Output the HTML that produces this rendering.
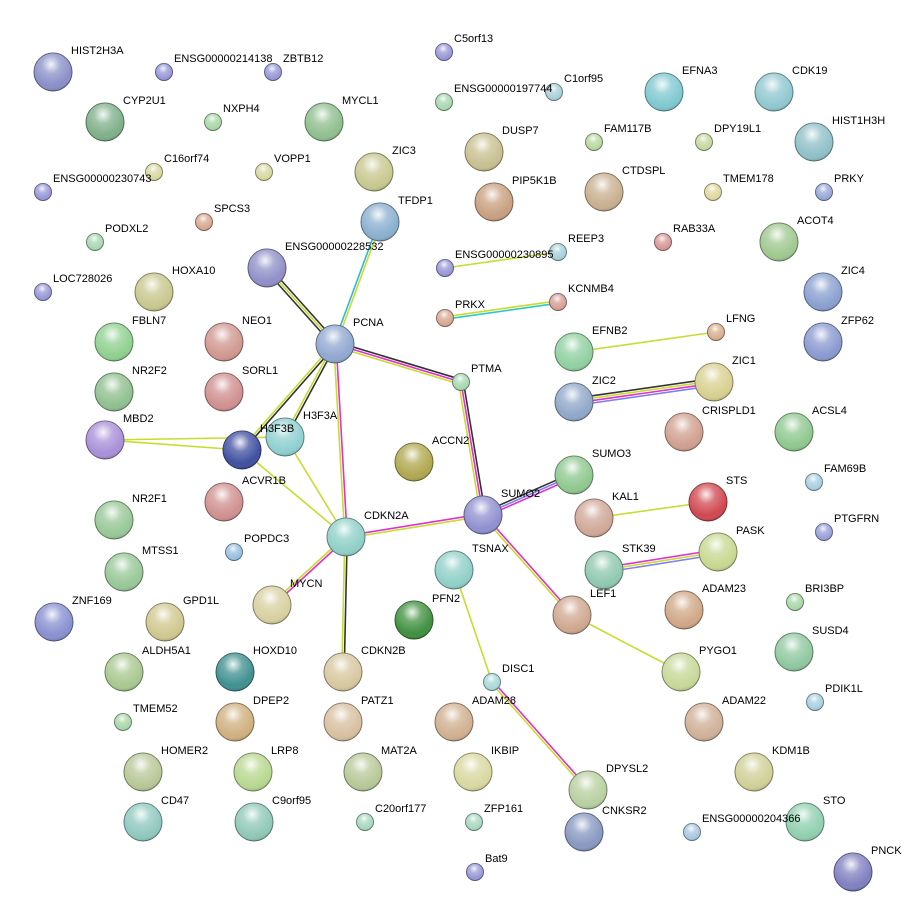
<!DOCTYPE html>
<html><head><meta charset="utf-8"><style>
html,body{margin:0;padding:0;background:#fff;width:924px;height:917px;overflow:hidden}
svg text{font-family:"Liberation Sans",sans-serif;font-size:11px;fill:#000}
</style></head><body>
<svg id="s" width="924" height="917" xmlns="http://www.w3.org/2000/svg">
<defs>
<radialGradient id="hl" cx="0.45" cy="0.3" r="0.7">
<stop offset="0" stop-color="#fff" stop-opacity="0.9"/>
<stop offset="0.35" stop-color="#fff" stop-opacity="0.25"/>
<stop offset="0.8" stop-color="#fff" stop-opacity="0"/>
<stop offset="1" stop-color="#000" stop-opacity="0.15"/>
</radialGradient>
</defs>
<g id="e"></g><g id="n"></g><g id="t"></g>
</svg>
<script>
var L=[
["HIST2H3A",53,72,"#8a90c8"],["CYP2U1",105,122,"#7fb08a"],["MYCL1",324,122,"#8fbf8f"],["ZIC3",374,172,"#c8c890"],
["TFDP1",380,222,"#8ab0d0"],["DUSP7",484,152,"#c8c090"],["PIP5K1B",494,202,"#c8a080"],["CTDSPL",604,192,"#c8b090"],
["EFNA3",664,92,"#80c8d0"],["CDK19",774,92,"#90c8d0"],["HIST1H3H",814,142,"#90c0c8"],["ACOT4",779,242,"#a0c890"],
["ZIC4",823,292,"#8aa0d0"],["ZFP62",823,342,"#8a9ad0"],["ENSG00000228532",267,268,"#9090c8"],["HOXA10",154,292,"#c8c890"],
["PCNA",335,344,"#90a8d0"],["FBLN7",114,342,"#90d090"],["NEO1",224,342,"#d09890"],["NR2F2",114,392,"#90c090"],
["SORL1",224,392,"#d09090"],["EFNB2",574,352,"#90d0a0"],["ZIC1",714,382,"#d8d090"],["ZIC2",574,402,"#90a8c8"],
["CRISPLD1",684,432,"#d0a090"],["ACSL4",794,432,"#90c890"],["MBD2",105,440,"#a890d8"],["H3F3B",242,450,"#4050a0"],
["H3F3A",285,437,"#90d0d0"],["ACCN2",414,462,"#b0a850"],["SUMO3",574,475,"#90c890"],["SUMO2",483,515,"#9090d0"],
["STS",708,502,"#d04850"],["KAL1",594,518,"#d0a898"],["ACVR1B",224,502,"#d09090"],["NR2F1",114,520,"#98c898"],
["CDKN2A",346,537,"#90d0c8"],["PASK",718,552,"#c8d890"],["STK39",604,570,"#90c8b0"],["TSNAX",454,570,"#90d0c8"],
["MTSS1",124,572,"#98c898"],["MYCN",272,605,"#d8d0a0"],["PFN2",414,620,"#409040"],["LEF1",572,615,"#d0a890"],
["ADAM23",684,610,"#d0a888"],["ZNF169",54,622,"#8890d0"],["GPD1L",165,622,"#d0c890"],["SUSD4",794,652,"#90c8a0"],
["ALDH5A1",124,672,"#a8c890"],["HOXD10",235,672,"#409090"],["CDKN2B",343,672,"#d8c8a0"],["PYGO1",681,672,"#c8d898"],
["DPEP2",235,722,"#d0b080"],["PATZ1",343,722,"#d8c0a0"],["ADAM28",454,722,"#d0b090"],["ADAM22",704,722,"#d0b098"],
["HOMER2",143,772,"#b8c898"],["LRP8",253,772,"#b8d890"],["MAT2A",363,772,"#b8c898"],["IKBIP",473,772,"#d8d8a0"],
["KDM1B",754,772,"#d0d098"],["DPYSL2",588,790,"#b8d0a0"],["CD47",143,822,"#90c8c0"],["C9orf95",254,822,"#90c8b8"],
["STO",805,822,"#90d0b0"],["CNKSR2",584,832,"#8898c0"],["PNCK",853,872,"#8080c0"]];
var S=[
["ENSG00000214138",164,72,"#9898d8"],["ZBTB12",273,72,"#9898d8"],["C5orf13",444,52,"#9898d8"],["C1orf95",554,92,"#a8d0d8"],
["ENSG00000197744",444,102,"#a8d8b0"],["NXPH4",213,122,"#a8d8a8"],["FAM117B",594,142,"#b8d8a0"],["DPY19L1",704,142,"#c8d8a0"],
["C16orf74",154,172,"#d8d8a0"],["VOPP1",264,172,"#d8d8a0"],["ENSG00000230743",43,192,"#9898d8"],["TMEM178",713,192,"#e0d8a0"],
["PRKY",824,192,"#98a8d8"],["SPCS3",204,222,"#d8a890"],["PODXL2",95,242,"#a8d8b0"],["REEP3",558,252,"#a8d0d8"],
["RAB33A",663,242,"#d89898"],["ENSG00000230895",445,268,"#9898d8"],["LOC728026",43,292,"#9898d8"],["KCNMB4",558,302,"#d8a098"],
["PRKX",445,318,"#d8a890"],["LFNG",716,332,"#d8b090"],["PTMA",461,382,"#a8d8b0"],["FAM69B",814,482,"#a8d0e0"],
["PTGFRN",824,532,"#98a0d8"],["POPDC3",234,552,"#98c0e0"],["BRI3BP",795,602,"#a8d8a8"],["DISC1",492,682,"#a8d8d8"],
["TMEM52",123,722,"#a8d8a8"],["PDIK1L",815,702,"#a8d0e0"],["C20orf177",365,822,"#a8d8c0"],["ZFP161",474,822,"#a8d8c0"],
["ENSG00000204366",692,832,"#a8c8e0"],["Bat9",475,872,"#9898d8"]];
var P={};L.forEach(function(a){P[a[0]]=[a[1],a[2]]});S.forEach(function(a){P[a[0]]=[a[1],a[2]]});
var K="#333",Y="#c8dc30",M="#e030d0",B="#30b8d8",V="#8080f0",C="#30c8c8";
var E=[["TFDP1","PCNA",[Y,B]],["ENSG00000228532","PCNA",[K,Y,K]],["PCNA","PTMA",[K,M,Y]],["PCNA","H3F3B",[K,Y]],
["PCNA","H3F3A",[K,Y]],["PCNA","CDKN2A",[M,Y]],["PTMA","SUMO2",[K,M,Y]],["MBD2","H3F3B",[Y]],["MBD2","H3F3A",[Y]],
["H3F3B","CDKN2A",[Y]],["H3F3A","CDKN2A",[Y]],["CDKN2A","SUMO2",[M,Y]],["CDKN2A","CDKN2B",[K,Y]],["CDKN2A","MYCN",[M,Y]],
["SUMO2","SUMO3",[K,V,M]],["SUMO2","LEF1",[M,Y]],["TSNAX","DISC1",[Y]],["DISC1","DPYSL2",[M,Y]],["LEF1","PYGO1",[Y]],
["KAL1","STS",[Y]],["STK39","PASK",[M,Y,V]],["EFNB2","LFNG",[Y]],["ZIC2","ZIC1",[K,Y,M,V]],["PRKX","KCNMB4",[Y,C]],
["ENSG00000230895","REEP3",[Y]]];
var ns="http://www.w3.org/2000/svg",ge=document.getElementById("e"),gn=document.getElementById("n"),gt=document.getElementById("t");
function el(t,a,p){var e=document.createElementNS(ns,t);for(var k in a)e.setAttribute(k,a[k]);p.appendChild(e);return e}
E.forEach(function(d){var a=P[d[0]],b=P[d[1]],dx=b[0]-a[0],dy=b[1]-a[1],l=Math.sqrt(dx*dx+dy*dy),nx=-dy/l,ny=dx/l,n=d[2].length;
d[2].forEach(function(c,i){var o=(i-(n-1)/2)*2.4;el("line",{x1:a[0]+nx*o,y1:a[1]+ny*o,x2:b[0]+nx*o,y2:b[1]+ny*o,stroke:c,"stroke-width":1.6},ge)})});
function dark(h){var r=parseInt(h.substr(1,2),16)*.6|0,g=parseInt(h.substr(3,2),16)*.6|0,b=parseInt(h.substr(5,2),16)*.6|0;return "rgb("+r+","+g+","+b+")"}
function node(a,r,lx,ly){el("circle",{cx:a[1],cy:a[2],r:r,fill:a[3],stroke:dark(a[3]),"stroke-width":1},gn);
el("circle",{cx:a[1],cy:a[2],r:r,fill:"url(#hl)"},gn);
var t=el("text",{x:a[1]+lx,y:a[2]+ly},gt);t.textContent=a[0]}
L.forEach(function(a){node(a,19,18,-18)});
S.forEach(function(a){node(a,8.5,10,-10)});
</script>
</body></html>
